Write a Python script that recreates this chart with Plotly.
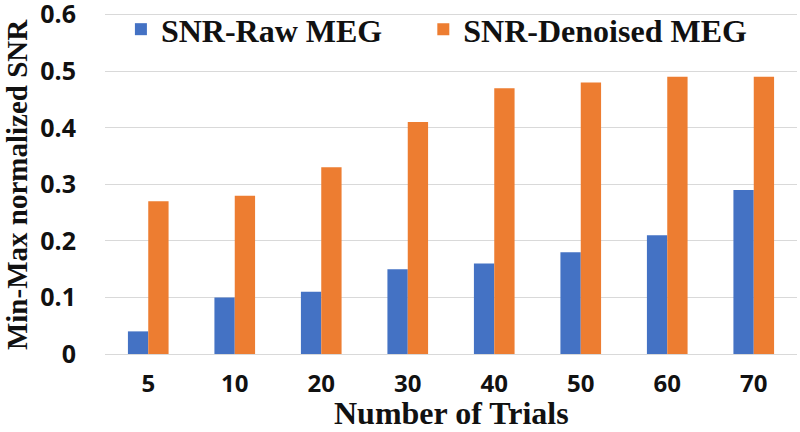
import plotly.graph_objects as go

trials = ["5", "10", "20", "30", "40", "50", "60", "70"]
snr_raw = [0.04, 0.10, 0.11, 0.15, 0.16, 0.18, 0.21, 0.29]
snr_denoised = [0.27, 0.28, 0.33, 0.41, 0.47, 0.48, 0.49, 0.49]
y_ticks = [0, 0.1, 0.2, 0.3, 0.4, 0.5, 0.6]
y_ticklabels = ["0", "0.1", "0.2", "0.3", "0.4", "0.5", "0.6"]

serif = "Liberation Serif, Times New Roman, serif"
sans = "Open Sans, DejaVu Sans, sans-serif"

fig = go.Figure()
fig.add_trace(go.Bar(x=trials, y=snr_raw, name="SNR-Raw MEG", legend="legend",
                     marker=dict(color="#4472C4", line=dict(width=0))))
fig.add_trace(go.Bar(x=trials, y=snr_denoised, name="SNR-Denoised MEG", legend="legend2",
                     marker=dict(color="#ED7D31", line=dict(width=0))))

leg_common = dict(orientation="h", yref="container", y=0.932, xanchor="left", yanchor="middle",
                  font=dict(family=serif, size=32, color="#111111", weight="bold"),
                  bgcolor="rgba(0,0,0,0)")

fig.update_layout(
    width=800, height=432,
    margin=dict(l=105, r=3, t=9, b=78, autoexpand=False),
    plot_bgcolor="white", paper_bgcolor="white",
    barmode="group", bargap=0.53, bargroupgap=0,
    showlegend=True,
    legend=dict(x=0.023, **leg_common),
    legend2=dict(x=0.46, **leg_common),
    xaxis=dict(
        automargin=False,
        showgrid=False, showline=False, zeroline=False,
        tickfont=dict(family=sans, size=24, color="#111111", weight="bold"),
        ticklabelstandoff=13, ticklabeloverflow="allow",
    ),
    yaxis=dict(
        automargin=False,
        range=[0, 0.61],
        tickvals=y_ticks, ticktext=y_ticklabels,
        showgrid=True, gridcolor="#D9D9D9", gridwidth=1.3,
        zeroline=True, zerolinecolor="#D9D9D9", zerolinewidth=1.3,
        showline=False,
        tickfont=dict(family=sans, size=25, color="#111111", weight="bold"),
        ticklabelstandoff=28, ticklabeloverflow="allow",
    ),
    annotations=[
        dict(text="Number of Trials", xref="paper", yref="paper", x=0.5, y=-0.17,
             xanchor="center", yanchor="middle", showarrow=False,
             font=dict(family=serif, size=32, color="#111111", weight="bold")),
        dict(text="Min-Max normalized SNR", xref="paper", yref="paper", x=-0.127, y=0.49,
             xanchor="center", yanchor="middle", showarrow=False, textangle=-90,
             font=dict(family=serif, size=29, color="#111111", weight="bold")),
    ],
)

fig.write_html("out.html", config={"displayModeBar": False},
               post_script="document.body.style.margin='0';")
